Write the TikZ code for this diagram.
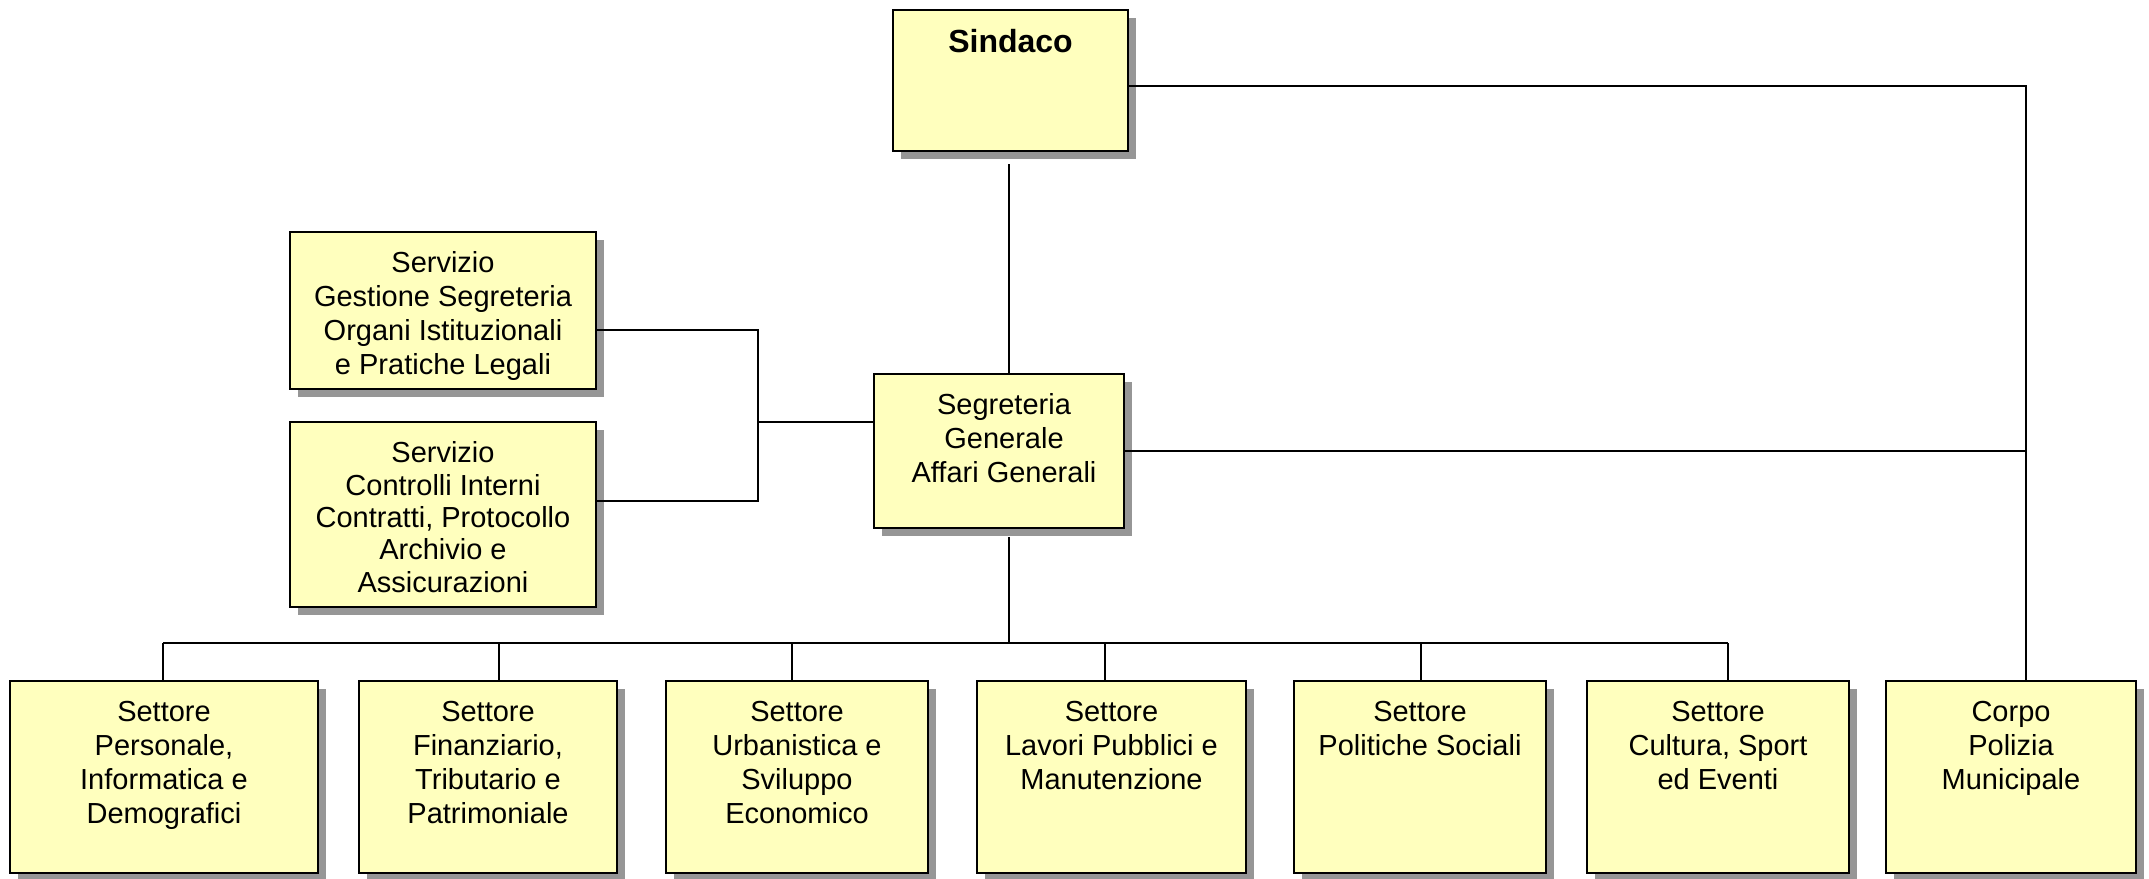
\documentclass[tikz,border=0pt]{standalone}
\usepackage{fontspec}
\setmainfont{Liberation Sans}
\usetikzlibrary{shadows,calc}
\definecolor{boxfill}{RGB}{255,255,190}
\definecolor{shadowgray}{RGB}{150,150,150}
\tikzset{
  orgbox/.style={draw=black, line width=2.5pt, fill=boxfill, inner sep=0pt,
    drop shadow={shadow xshift=8pt, shadow yshift=-8pt, fill=shadowgray, opacity=1}},
  lbl/.style={anchor=north, align=center, inner sep=0pt, font=\fontsize{29}{34}\selectfont},
  conn/.style={draw=black, line width=1.8pt}
}
\begin{document}
\begin{tikzpicture}[x=1pt,y=-1pt]
\useasboundingbox (0,0) rectangle (2149,878);
\fill[white] (0,0) rectangle (2149,878);

% boxes
\node[orgbox, minimum width=235pt, minimum height=141pt] (sindaco) at (1010.5,80.5) {};
\node[lbl, font=\fontsize{32}{38}\selectfont\bfseries] (sindacoT) at ([yshift=-20pt]sindaco.north) {Sindaco};

\node[orgbox, minimum width=250pt, minimum height=154pt] (segr) at (999,451) {};
\node[lbl] (segrT) at ([xshift=5pt,yshift=-21pt]segr.north) {Segreteria\\Generale\\Affari Generali};

\node[orgbox, minimum width=306pt, minimum height=157pt] (serv1) at (443,310.5) {};
\node[lbl] (serv1T) at ([yshift=-21pt]serv1.north) {Servizio\\Gestione Segreteria\\Organi Istituzionali\\e Pratiche Legali};

\node[orgbox, minimum width=306pt, minimum height=185pt] (serv2) at (443,514.5) {};
\node[lbl, font=\fontsize{29}{32.3}\selectfont] (serv2T) at ([yshift=-21pt]serv2.north) {Servizio\\Controlli Interni\\Contratti, Protocollo\\Archivio e\\Assicurazioni};

\node[orgbox, minimum width=308pt, minimum height=192pt] (b1) at (164,777) {};
\node[lbl] (b1T) at ([yshift=-21pt]b1.north) {Settore\\Personale,\\Informatica e\\Demografici};

\node[orgbox, minimum width=258pt, minimum height=192pt] (b2) at (488,777) {};
\node[lbl] (b2T) at ([yshift=-21pt]b2.north) {Settore\\Finanziario,\\Tributario e\\Patrimoniale};

\node[orgbox, minimum width=262pt, minimum height=192pt] (b3) at (797,777) {};
\node[lbl] (b3T) at ([yshift=-21pt]b3.north) {Settore\\Urbanistica e\\Sviluppo\\Economico};

\node[orgbox, minimum width=269pt, minimum height=192pt] (b4) at (1111.5,777) {};
\node[lbl] (b4T) at ([yshift=-21pt]b4.north) {Settore\\Lavori Pubblici e\\Manutenzione};

\node[orgbox, minimum width=252pt, minimum height=192pt] (b5) at (1420,777) {};
\node[lbl] (b5T) at ([yshift=-21pt]b5.north) {Settore\\Politiche Sociali};

\node[orgbox, minimum width=262pt, minimum height=192pt] (b6) at (1718,777) {};
\node[lbl] (b6T) at ([yshift=-21pt]b6.north) {Settore\\Cultura, Sport\\ed Eventi};

\node[orgbox, minimum width=250pt, minimum height=192pt] (corpo) at (2011,777) {};
\node[lbl] (corpoT) at ([yshift=-21pt]corpo.north) {Corpo\\Polizia\\Municipale};

% junction coordinates
\coordinate (sindOut) at (1009,164);
\coordinate (lj) at (758,422);
\coordinate (bus) at (1009,643);
\coordinate (segOut) at ([xshift=10pt,yshift=-8pt]segr.south);
\coordinate (sindRight) at ([yshift=-5.5pt]sindaco.east);
\coordinate (dcorpo) at ([xshift=15pt]corpo.north);
\coordinate (d1) at ([xshift=-1pt]b1.north);
\coordinate (d2) at ([xshift=11pt]b2.north);
\coordinate (d3) at ([xshift=-5pt]b3.north);
\coordinate (d4) at ([xshift=-6.5pt]b4.north);
\coordinate (d5) at ([xshift=1pt]b5.north);
\coordinate (d6) at ([xshift=10pt]b6.north);
\coordinate (s1out) at ([yshift=-19.5pt]serv1.east);
\coordinate (s2out) at ([yshift=13.5pt]serv2.east);

% connectors
\draw[conn] (sindOut) -- (sindOut |- segr.north);
\draw[conn] (sindRight) -| (dcorpo);
\draw[conn] (segr.east) -- (segr.east -| dcorpo);
\draw[conn] (s1out) -| (lj) |- (s2out);
\draw[conn] (lj) -- (lj -| segr.west);
\draw[conn] (segOut) -- (bus);
\draw[conn] (d1 |- bus) -- (d6 |- bus);
\draw[conn] (d1) -- (d1 |- bus);
\draw[conn] (d2) -- (d2 |- bus);
\draw[conn] (d3) -- (d3 |- bus);
\draw[conn] (d4) -- (d4 |- bus);
\draw[conn] (d5) -- (d5 |- bus);
\draw[conn] (d6) -- (d6 |- bus);
\end{tikzpicture}
\end{document}
